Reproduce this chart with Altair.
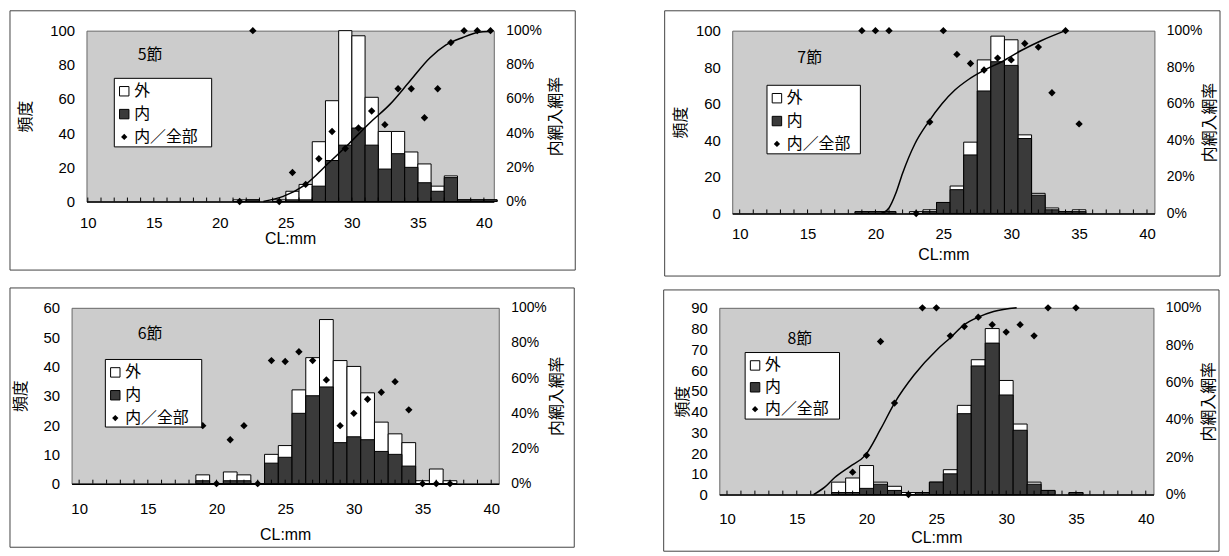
import altair as alt
import pandas as pd

# ---------------- data ----------------
# 5節 (class mid-points)
cl5 = [21.5, 22.5, 24.5, 25.5, 26.5, 27.5, 28.5, 29.5, 30.5, 31.5, 32.5, 33.5, 34.5, 35.5, 36.5, 37.5, 38.5, 39.5, 40.5]
inner5 = [0, 1, 0, 1, 1, 9, 24, 33, 43, 33, 19, 28, 20, 11, 6, 14, 1, 1, 1]
outer5 = [1, 0, 1, 5, 9, 26, 35, 67, 54, 28, 22, 13, 9, 11, 3, 1, 0, 0, 0]
rcl5 = cl5
ratio5 = [0, 100, 0, 17, 10, 25, 41, 31, 43, 53, 45, 66, 66, 49, 66, 93, 100, 100, 100]
curve5_x = [23.3, 24.8, 26.4, 28.3, 29.8, 31.35, 32.9, 34.4, 35.9, 37.1, 38.4, 39.6, 40.4]
curve5_y = [0, 3, 9.5, 23, 34, 46, 57, 70.5, 84, 91.5, 96, 99, 99.5]

# 6節
cl6 = [19, 20, 21, 22, 23, 24, 25, 26, 27, 28, 29, 30, 31, 32, 33, 34, 35, 36, 37]
inner6 = [1, 0, 1, 1, 0, 7, 9, 24, 30, 33, 14, 16, 15, 11, 10, 6, 0, 0, 0]
outer6 = [2, 0, 3, 2, 0, 3, 4, 8, 13, 23, 28, 24, 16, 10, 7, 8, 1, 5, 1]
rcl6 = cl6
ratio6 = [33, 0, 25, 33, 0, 70, 69.5, 75, 70, 59, 33, 40, 48, 52, 58, 42, 0, 0, 0]

# 7節
cl7 = [19, 20, 21, 23, 24, 25, 26, 27, 28, 29, 30, 31, 32, 33, 34, 35]
inner7 = [1, 1, 1, 0, 1, 6, 13, 32, 67, 83, 81, 41, 10, 2, 1, 1]
outer7 = [0, 0, 0, 1, 1, 0, 2, 7, 17, 14, 14, 2, 1, 1, 0, 1]
rcl7 = cl7
ratio7 = [100, 100, 100, 0, 50, 100, 87, 82, 78.5, 85, 84, 93, 91, 66, 100, 49]
curve7_x = [20.5, 21.0, 21.5, 22.0, 22.9, 23.9, 24.9, 25.85, 26.8, 28.05, 29.3, 30.7, 32.2, 34.0]
curve7_y = [0, 3, 11, 22, 38, 50, 60, 67.5, 73, 78.5, 83, 89, 94.5, 100]

# 8節
cl8 = [18, 19, 20, 21, 22, 23, 24, 25, 26, 27, 28, 29, 30, 31, 32, 33, 35]
inner8 = [1, 1, 3, 5, 2, 0, 1, 6, 10, 39, 62, 73, 48, 31, 5, 2, 1]
outer8 = [5, 7, 11, 1, 2, 1, 0, 0, 2, 4, 3, 7, 7, 3, 1, 0, 0]
rcl8 = [19, 20, 21, 22, 23, 24, 25, 26, 27, 28, 29, 30, 31, 32, 33, 35]
ratio8 = [12, 21, 82, 49, 0, 100, 100, 85, 90, 95, 91, 87, 91, 85, 100, 100]
curve8_x = [16.2, 17.0, 17.7, 18.8, 19.9, 21.0, 22.0, 23.4, 25.1, 26.0, 27.0, 28.0, 29.1, 30.75]
curve8_y = [0, 4, 9, 15, 21, 35, 49, 64, 78, 84, 91, 95, 98, 100]

legend_labels = ["外", "内", "内／全部"]
x_tick_values = [10, 15, 20, 25, 30, 35, 40]
minor_ticks = list(range(10, 41))

NUM_FONT = "Liberation Sans"
JP_FONT = "Noto Sans CJK JP"
INNER = "#3a3a3a"

one = pd.DataFrame({"k": [0]})


def panel(title, cl, inner, outer, rcl, ratio, cx, cy, w, h, ymax, ystep, xdom,
          ltp, rtp, xlp, xtp, frame, leg, tpos):
    bars = pd.DataFrame({"cl": cl, "inner": inner, "outer": outer})
    pts = pd.DataFrame({"cl": rcl, "ratio": ratio})
    xs = alt.Scale(domain=xdom, nice=False, zero=False)
    ys = alt.Scale(domain=[0, ymax], nice=False)
    ps = alt.Scale(domain=[0, 100], nice=False)
    xaxis = alt.Axis(values=x_tick_values, labelPadding=xlp, titlePadding=xtp,
                     domain=True, domainColor="black", domainWidth=1.5, ticks=False,
                     grid=False, labelFont=NUM_FONT, labelFontSize=15,
                     titleFont=NUM_FONT, titleFontSize=16)
    yaxis = alt.Axis(orient="left", values=list(range(0, ymax + 1, ystep)), labelPadding=12,
                     titlePadding=ltp, domain=False, ticks=False, grid=False,
                     labelFont=NUM_FONT, labelFontSize=15, titleFont=JP_FONT)
    raxis = alt.Axis(orient="right", values=[0, 20, 40, 60, 80, 100], labelExpr="datum.value + '%'",
                     labelPadding=12, titlePadding=rtp, titleAngle=270, titleBaseline="top",
                     domain=False, ticks=False, grid=False, labelFont=NUM_FONT, labelFontSize=14,
                     titleFont=JP_FONT)

    fl, fr, ft, fb = frame
    frame_c = alt.Chart(one).mark_rect(fillOpacity=0, stroke="#444444", strokeWidth=1).encode(
        x=alt.value(fl), x2=alt.value(w + fr), y=alt.value(ft), y2=alt.value(h + fb))

    b = alt.Chart(bars).transform_calculate(
        lo="datum.cl - 0.5", hi="datum.cl + 0.5", total="datum.inner + datum.outer", zero="0")
    outer_c = b.mark_bar(fill="white", stroke="black", strokeWidth=1).encode(
        x=alt.X("lo:Q", scale=xs, axis=xaxis, title="CL:mm"),
        x2=alt.X2("hi:Q"),
        y=alt.Y("total:Q", scale=ys, axis=yaxis, title="頻度"),
        y2=alt.Y2("zero:Q"))
    inner_c = b.mark_bar(fill=INNER, stroke="black", strokeWidth=1).encode(
        x=alt.X("lo:Q", scale=xs, title="CL:mm"),
        x2=alt.X2("hi:Q"),
        y=alt.Y("inner:Q", scale=ys, axis=None),
        y2=alt.Y2("zero:Q"))
    ticks_c = alt.Chart(pd.DataFrame({"t": minor_ticks})).mark_rule(color="black", strokeWidth=1).encode(
        x=alt.X("t:Q", scale=xs, title="CL:mm"), y=alt.value(h), y2=alt.value(h - 4))

    layers = [frame_c, outer_c, inner_c, ticks_c]
    if cx is not None:
        curve = pd.DataFrame({"cx": cx, "cy": cy})
        line_c = alt.Chart(curve).mark_line(color="black", strokeWidth=1.5, interpolate="monotone").encode(
            x=alt.X("cx:Q", scale=xs, title="CL:mm"),
            y=alt.Y("cy:Q", scale=ps, axis=None))
        layers.append(line_c)
    pts_c = alt.Chart(pts).mark_point(shape="diamond", filled=True, color="black", size=55, opacity=1).encode(
        x=alt.X("cl:Q", scale=xs, title="CL:mm"),
        y=alt.Y("ratio:Q", scale=ps, axis=raxis, title="内網入網率"))
    layers.append(pts_c)

    L, T, W, H, dy = leg
    layers.append(alt.Chart(one).mark_rect(fill="white", stroke="black", strokeWidth=1).encode(
        x=alt.value(L), x2=alt.value(L + W), y=alt.value(T), y2=alt.value(T + H)))
    rows = [T + 13, T + 13 + dy, T + 13 + 2 * dy]
    layers.append(alt.Chart(one).mark_square(size=90, filled=True, fill="white", stroke="black",
                                             strokeWidth=1, opacity=1).encode(
        x=alt.value(L + 10), y=alt.value(rows[0])))
    layers.append(alt.Chart(one).mark_square(size=90, filled=True, fill=INNER, stroke="black",
                                             strokeWidth=1, opacity=1).encode(
        x=alt.value(L + 10), y=alt.value(rows[1])))
    layers.append(alt.Chart(one).mark_point(shape="diamond", filled=True, color="black", size=40,
                                            opacity=1).encode(
        x=alt.value(L + 10), y=alt.value(rows[2])))
    for lab, ry in zip(legend_labels, rows):
        layers.append(alt.Chart(one).mark_text(text=lab, align="left", baseline="middle", font=JP_FONT,
                                               fontSize=16, color="black").encode(
            x=alt.value(L + 20), y=alt.value(ry)))
    layers.append(alt.Chart(one).mark_text(text=title, align="center", baseline="middle", font=JP_FONT,
                                           fontSize=16, color="black").encode(
        x=alt.value(tpos[0]), y=alt.value(tpos[1])))

    return alt.layer(*layers).resolve_scale(y="independent").properties(width=w, height=h)


def spacer():
    return alt.Chart(one).mark_rect(opacity=0).encode(
        x=alt.value(0), x2=alt.value(1), y=alt.value(0), y2=alt.value(1)
    ).properties(width=1, height=1, view=alt.ViewBackground(fillOpacity=0, strokeOpacity=0))


p5 = panel("5節", cl5, inner5, outer5, rcl5, ratio5, curve5_x, curve5_y, 410, 172, 100, 20, [9.9, 40.75],
           16, 6, 14, 0, (-77, 82, -20, 69), (28, 48, 98, 69, 23), (64, 25))
p7 = panel("7節", cl7, inner7, outer7, rcl7, ratio7, curve7_x, curve7_y, 425, 184, 100, 20, [9.45, 40.55],
           7, 0, 13, 5, (-68, 66, -20, 63), (35, 55, 94, 69, 23), (78, 28))
p6 = panel("6節", cl6, inner6, outer6, rcl6, ratio6, None, None, 430, 177, 60, 10, [9.45, 40.55],
           15, 2, 18, 10, (-62, 76, -20, 64), (34, 52, 97, 68, 23), (79, 26))
p8 = panel("8節", cl8, inner8, outer8, rcl8, ratio8, curve8_x, curve8_y, 437, 188, 90, 10, [9.45, 40.55],
           0, 0, 17, 3, (-56, 66, -18, 57), (26, 45, 95, 67, 22), (81, 31))

row1 = alt.hconcat(spacer(), alt.hconcat(p5, p7, spacing=88), spacing=0)
row2 = alt.hconcat(spacer(), alt.hconcat(p6, p8, spacing=88), spacing=0)

chart = alt.vconcat(row1, row2, spacing=10).properties(
    padding={"left": 0, "top": 0, "right": 0, "bottom": 0}
).configure(font=JP_FONT).configure_view(
    fill="#cccccc", stroke="#666666", strokeWidth=1
).configure_axis(
    labelColor="black", titleFontSize=16, titleFontWeight="normal", titleColor="black"
)

chart.save("out.html", embed_options={"renderer": "svg", "actions": False})
